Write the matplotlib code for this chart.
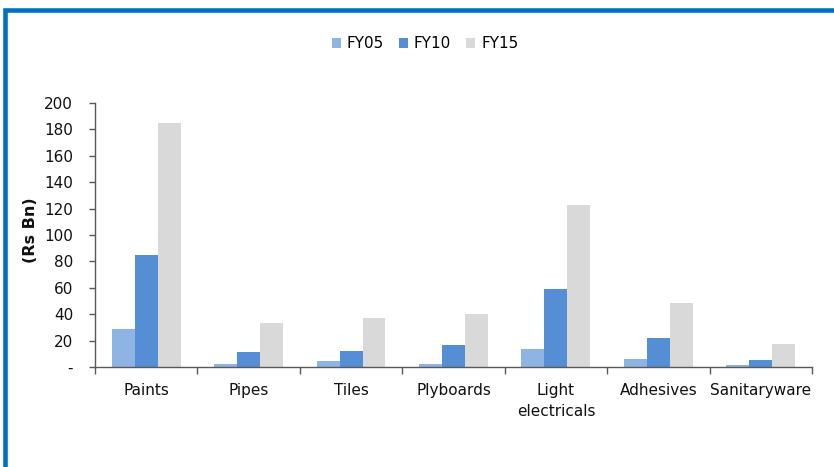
import matplotlib
matplotlib.use("Agg")
import matplotlib.pyplot as plt
import numpy as np
from matplotlib.patches import Rectangle, Patch

categories = ["Paints", "Pipes", "Tiles", "Plyboards", "Light\nelectricals",
              "Adhesives", "Sanitaryware"]
fy05 = [29, 2.5, 4.5, 2.5, 14, 6, 1.5]
fy10 = [85, 11.5, 12.3, 16.6, 59, 22, 5.3]
fy15 = [185, 33.5, 37, 40.5, 123, 48.5, 17.5]
series_names = ["FY05", "FY10", "FY15"]
colors = ["#8DB4E2", "#558ED5", "#D9D9D9"]
yticks = [0, 20, 40, 60, 80, 100, 120, 140, 160, 180, 200]
ytick_labels = ["-"] + [str(v) for v in yticks[1:]]

plt.rcParams["font.family"] = ["DejaVu Sans"]

fig = plt.figure(figsize=(8.34, 4.67), dpi=100)
ax = fig.add_axes([0.1139, 0.2135, 0.8597, 0.5665])

x = np.arange(len(categories))
w = 0.224
for i, (vals, col) in enumerate(zip([fy05, fy10, fy15], colors)):
    ax.bar(x + (i - 1) * w, vals, width=w, color=col, edgecolor="none",
           label=series_names[i])

ax.set_xlim(-0.5, len(categories) - 0.5)
ax.set_ylim(0, 200)
ax.set_yticks(yticks)
ax.set_yticklabels(ytick_labels, fontsize=11, color="#111111")
ax.set_xticks(x)
ax.set_xticklabels(categories, fontsize=11, color="#111111", linespacing=1.45)
ax.set_xticks(np.arange(-0.5, len(categories), 1.0), minor=True)
ax.tick_params(axis="x", which="major", length=0, pad=11.5)
ax.tick_params(axis="x", which="minor", length=5, width=1.0, color="#595959",
               direction="out")
ax.tick_params(axis="y", which="major", length=4.3, width=1.0, color="#595959",
               pad=11.5, direction="out")

for s in ["top", "right"]:
    ax.spines[s].set_visible(False)
for s in ["left", "bottom"]:
    ax.spines[s].set_color("#595959")
    ax.spines[s].set_linewidth(1.0)

ax.set_ylabel("(Rs Bn)", fontsize=11.5, fontweight="bold", color="#111111")
ax.yaxis.set_label_coords(-0.080, 0.52)

handles = [Patch(facecolor=c, edgecolor="none") for c in colors]
fig.legend(handles, series_names, loc="center", bbox_to_anchor=(0.51, 0.906),
           ncol=3, frameon=False, fontsize=11, handlelength=0.55,
           handleheight=0.55, handletextpad=0.4, columnspacing=1.0)

# frame line along the top and left edges
fig.patches.append(Rectangle((5 / 834, -0.2), 1.2, 1 - 9.7 / 467 + 0.2,
                             transform=fig.transFigure, fill=False,
                             edgecolor="#0070C0", linewidth=3.3))

fig.savefig("out.png", dpi=100)
